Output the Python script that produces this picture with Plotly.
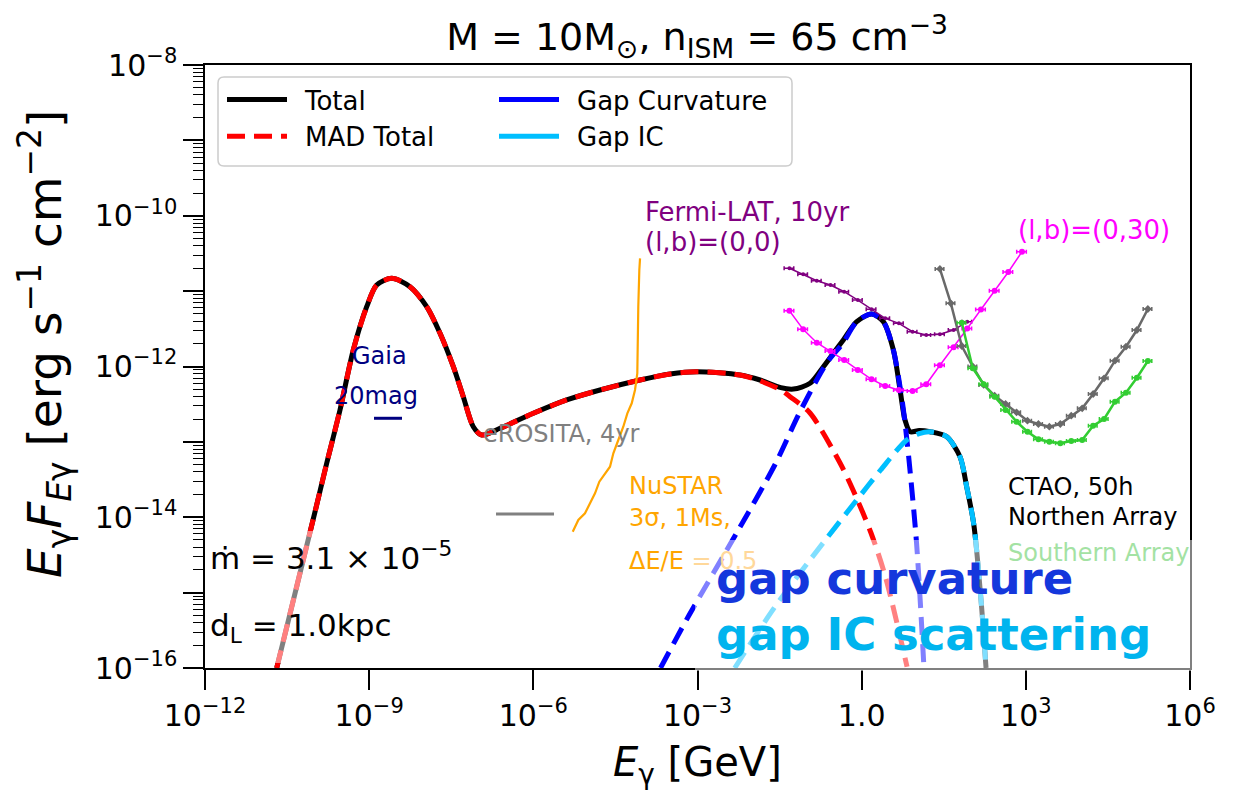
import numpy as np
import plotly.graph_objects as go

# ---------------- data (log10 values) ----------------
total_logE = [-10.69, -10.355, -9.99, -9.776, -9.533, -9.29, -9.045, -8.862, -8.588, -8.254,
              -7.949, -7.705, -7.462, -7.28, -7.097, -6.943, -6.609, -6.0, -5.391, -4.781,
              -4.051, -3.502, -3.009, -2.223, -1.857, -1.477, -1.249, -0.944, -0.70, -0.518,
              -0.335, -0.09, 0.184, 0.396, 0.579, 0.702, 0.792, 0.884, 1.05, 1.249, 1.55,
              1.797, 1.919, 2.05, 2.181, 2.273]
total_logF = [-16.0, -15.009, -13.93, -13.284, -12.577, -11.781, -11.207, -10.919, -10.83, -10.941,
              -11.207, -11.56, -12.003, -12.401, -12.799, -12.909, -12.82, -12.621, -12.444, -12.312,
              -12.179, -12.099, -12.069, -12.113, -12.179, -12.28, -12.299, -12.223, -12.003, -11.825,
              -11.648, -11.405, -11.303, -11.405, -11.781, -12.312, -12.71, -12.865, -12.85, -12.865, -12.93,
              -13.197, -13.595, -14.1, -15.098, -16.0]

mad_logE = [-10.69, -10.355, -9.99, -9.776, -9.533, -9.29, -9.045, -8.862, -8.588, -8.254,
            -7.949, -7.705, -7.462, -7.28, -7.097, -6.943, -6.609, -6.0, -5.391, -4.781,
            -4.051, -3.502, -3.009, -2.223, -1.857, -1.477, -1.309, -0.944, -0.395, -0.158,
            0.171, 0.434, 0.829]
mad_logF = [-16.0, -15.009, -13.93, -13.284, -12.577, -11.781, -11.207, -10.919, -10.83, -10.941,
            -11.207, -11.56, -12.003, -12.401, -12.799, -12.909, -12.82, -12.621, -12.444, -12.312,
            -12.179, -12.099, -12.069, -12.113, -12.19, -12.312, -12.40, -12.617, -13.28, -13.638,
            -14.209, -14.789, -15.983]

curv_logE = [-3.676, -3.155, -2.278, -1.583, -1.127, -0.639, -0.341, -0.09, 0.184, 0.396,
             0.579, 0.738, 0.792, 0.865, 1.003, 1.134]
curv_logF = [-16.0, -15.3, -14.2, -13.3, -12.6, -11.954, -11.688, -11.405, -11.303, -11.405,
             -11.781, -12.444, -12.75, -13.24, -14.342, -15.934]

ic_logE = [-2.32, -1.583, -0.706, -0.09, 0.346, 0.824, 1.05, 1.249, 1.55, 1.797, 1.919, 2.05, 2.181, 2.273]
ic_logF = [-16.0, -15.187, -14.342, -13.771, -13.373, -12.975, -12.89, -12.865, -12.93, -13.197,
           -13.595, -14.1, -15.098, -16.0]

fermi_logE = [-1.32, -1.07, -0.82, -0.57, -0.32, -0.07, 0.18, 0.43, 0.68, 0.93, 1.18, 1.43,
              1.68, 1.93, 2.18, 2.43, 2.68, 2.93]
fermi00_logF = [-10.697, -10.777, -10.862, -10.919, -11.008, -11.118, -11.241, -11.361, -11.427,
                -11.538, -11.582, -11.573, -11.516, -11.406]
fermi030_logF = [-11.26, -11.507, -11.684, -11.794, -11.914, -12.046, -12.17, -12.259, -12.312,
                 -12.325, -12.236, -11.984, -11.745, -11.496, -11.244, -10.994, -10.746, -10.477]

ctao_logE = [1.43, 1.63, 1.83, 2.03, 2.23, 2.43, 2.63, 2.83, 3.03, 3.23, 3.43, 3.63, 3.83,
             4.03, 4.23, 4.43, 4.63, 4.83, 5.03, 5.23]
ctao_north_logF = [-10.706, -11.162, -11.728, -12.0, -12.245, -12.387, -12.497, -12.608, -12.719,
                   -12.763, -12.799, -12.763, -12.653, -12.555, -12.365, -12.157, -11.923, -11.737,
                   -11.516, -11.237]
ctao_south_logE = [1.83, 2.03, 2.23, 2.43, 2.63, 2.83, 3.03, 3.23, 3.43, 3.63, 3.83,
                   4.03, 4.23, 4.43, 4.63, 4.83, 5.03, 5.23]
ctao_south_logF = [-11.419, -12.024, -12.236, -12.401, -12.577, -12.732, -12.865, -12.966, -12.998,
                   -13.019, -12.988, -12.975, -12.785, -12.697, -12.467, -12.348, -12.149, -11.927]

nustar_logE = [-4.05, -4.063, -4.082, -4.10, -4.142, -4.202, -4.282, -4.356, -4.447, -4.538,
               -4.599, -4.721, -4.794, -4.873, -4.964, -5.056, -5.178, -5.28]
nustar_logF = [-10.565, -10.72, -11.207, -12.09, -12.312, -12.488, -12.621, -12.799, -12.975, -13.152,
               -13.329, -13.462, -13.528, -13.682, -13.815, -13.948, -14.036, -14.192]

gaia_logE = [-8.912, -8.40]
gaia_logF = [-12.687, -12.687]
erosita_logE = [-6.682, -5.622]
erosita_logF = [-13.957, -13.957]

xtick_vals = [1e-12, 1e-9, 1e-6, 1e-3, 1.0, 1e3, 1e6]
xtick_text = ["10<sup>\u221212</sup>", "10<sup>\u22129</sup>", "10<sup>\u22126</sup>",
              "10<sup>\u22123</sup>", "1.0", "10<sup>3</sup>", "10<sup>6</sup>"]
ytick_vals = [10.0 ** k for k in range(-16, -7)]
ytick_text = ["10<sup>\u221216</sup>", "", "10<sup>\u221214</sup>", "", "10<sup>\u221212</sup>", "",
              "10<sup>\u221210</sup>", "", "10<sup>\u22128</sup>"]
yminor_vals = [m * 10.0 ** k for k in range(-16, -8) for m in range(2, 10)]

# ---------------- geometry helpers ----------------
W, H = 1239, 791
L, R, T, B = 205, 1190, 65, 668
FONT = "DejaVu Sans"
SP = "\u2002"  # spacing between legend handle and label


def pxx(x):
    return (x - L) / (R - L)


def pxy(y):
    return (B - y) / (B - T)


def p10(a):
    return np.power(10.0, np.array(a, dtype=float))


fig = go.Figure()

DASH = "18px,9px"
# model curves
fig.add_trace(go.Scatter(x=p10(total_logE), y=p10(total_logF), mode="lines", name=SP + "Total",
                         line=dict(color="black", width=5, shape="spline", smoothing=0.8),
                         legend="legend"))
fig.add_trace(go.Scatter(x=p10(mad_logE), y=p10(mad_logF), mode="lines", name=SP + "MAD Total",
                         line=dict(color="red", width=5, dash=DASH, shape="spline", smoothing=0.8),
                         legend="legend"))
fig.add_trace(go.Scatter(x=p10(curv_logE), y=p10(curv_logF), mode="lines", name="Gap Curvature",
                         line=dict(color="blue", width=5, dash=DASH, shape="spline", smoothing=0.8),
                         showlegend=False))
fig.add_trace(go.Scatter(x=p10(ic_logE), y=p10(ic_logF), mode="lines", name="Gap IC",
                         line=dict(color="deepskyblue", width=5, dash=DASH, shape="spline", smoothing=0.8),
                         showlegend=False))
# legend-only solid handles
fig.add_trace(go.Scatter(x=[None], y=[None], mode="lines", name=SP + "Gap Curvature",
                         line=dict(color="blue", width=5), legend="legend2"))
fig.add_trace(go.Scatter(x=[None], y=[None], mode="lines", name=SP + "Gap IC",
                         line=dict(color="deepskyblue", width=5), legend="legend2"))

# sensitivities
fig.add_trace(go.Scatter(x=p10(nustar_logE), y=p10(nustar_logF), mode="lines",
                         line=dict(color="orange", width=2.2), showlegend=False))
fig.add_trace(go.Scatter(x=p10(erosita_logE), y=p10(erosita_logF), mode="lines",
                         line=dict(color="gray", width=3), showlegend=False))
fig.add_trace(go.Scatter(x=p10(gaia_logE), y=p10(gaia_logF), mode="lines",
                         line=dict(color="navy", width=3), showlegend=False))

fig.add_trace(go.Scatter(x=p10(fermi_logE[:len(fermi00_logF)]), y=p10(fermi00_logF), mode="lines+markers",
                         line=dict(color="purple", width=1.5),
                         marker=dict(color="purple", size=4),
                         error_x=dict(type="percent", value=20, color="purple", thickness=1.5, width=2),
                         showlegend=False))
fig.add_trace(go.Scatter(x=p10(fermi_logE), y=p10(fermi030_logF), mode="lines+markers",
                         line=dict(color="magenta", width=1.5),
                         marker=dict(color="magenta", size=6),
                         error_x=dict(type="percent", value=20, color="magenta", thickness=1.5, width=2),
                         showlegend=False))
fig.add_trace(go.Scatter(x=p10(ctao_logE), y=p10(ctao_north_logF), mode="lines+markers",
                         line=dict(color="dimgray", width=2.5),
                         marker=dict(color="dimgray", size=6, symbol="diamond"),
                         error_x=dict(type="percent", value=18, color="dimgray", thickness=1.5, width=2),
                         showlegend=False))
fig.add_trace(go.Scatter(x=p10(ctao_south_logE), y=p10(ctao_south_logF), mode="lines+markers",
                         line=dict(color="limegreen", width=2.5),
                         marker=dict(color="limegreen", size=6),
                         error_x=dict(type="percent", value=18, color="limegreen", thickness=1.5, width=2),
                         showlegend=False))

# ---------------- annotations ----------------
ann = []


def text(x, y, s, size, color, xanchor="left", bold=False, angle=0):
    if bold:
        s = "<b>" + s + "</b>"
    ann.append(dict(x=pxx(x), y=pxy(y), xref="paper", yref="paper", text=s, showarrow=False,
                    xanchor=xanchor, yanchor="middle", textangle=angle,
                    font=dict(family=FONT, size=size, color=color)))


text(643, 212, "Fermi-LAT, 10yr", 26, "purple")
text(643, 242, "(l,b)=(0,0)", 26, "purple")
text(1016, 230, "(l,b)=(0,30)", 26, "magenta")
text(379, 356, "Gaia", 24, "navy", xanchor="center")
text(376, 396, "20mag", 24, "navy", xanchor="center")
text(481, 434, "eROSITA, 4yr", 24, "gray")
text(627, 486, "NuSTAR", 24, "orange")
text(627, 518, "3\u03c3, 1Ms,", 24, "orange")
text(627, 561, "\u0394E/E <span style='color:#ffd89a'>= 0.5</span>", 24, "orange")
text(1006, 487, "CTAO, 50h", 24, "black")
text(1006, 517, "Northen Array", 24, "black")
text(1006, 553, "Southern Array", 24, "#a3e2a3")
text(208, 556, "\u1e41 = 3.1 \u00d7 10<sup>\u22125</sup>", 31, "black")
text(208, 627, "d<sub>L</sub> = 1.0kpc", 31, "black")
text(714, 578, "gap curvature", 45, "#1437dc", bold=True)
text(714, 634, "gap IC scattering", 45, "#00b4ee", bold=True)
# axis titles
text(697, 765, "<i>E</i><sub>\u03b3</sub> [GeV]", 40, "black", xanchor="center")
text(44, 344, "<i>E</i><sub>\u03b3</sub><i>F</i><sub><i>E</i>\u03b3</sub> [erg s<sup>\u22121</sup> cm<sup>\u22122</sup>]",
     47, "black", xanchor="center", angle=-90)

# ---------------- shapes ----------------
x0, x1, y0, y1 = pxx(218), pxx(792), pxy(166), pxy(77)
rx, ry = 6 / (R - L), 6 / (B - T)
frame_path = (f"M {x0+rx},{y1} L {x1-rx},{y1} Q {x1},{y1} {x1},{y1-ry} L {x1},{y0+ry} "
              f"Q {x1},{y0} {x1-rx},{y0} L {x0+rx},{y0} Q {x0},{y0} {x0},{y0+ry} "
              f"L {x0},{y1-ry} Q {x0},{y1} {x0+rx},{y1} Z")
shapes = [
    dict(type="path", path=frame_path, xref="paper", yref="paper",
         fillcolor="rgba(255,255,255,0.8)", line=dict(color="#cccccc", width=1.5), layer="above"),
    dict(type="rect", xref="paper", yref="paper", x0=pxx(207), x1=pxx(462), y0=pxy(663), y1=pxy(531),
         fillcolor="rgba(255,255,255,0.5)", line=dict(width=0), layer="above"),
    dict(type="rect", xref="paper", yref="paper", x0=pxx(695), x1=pxx(1239), y0=pxy(671), y1=pxy(540),
         fillcolor="rgba(255,255,255,0.5)", line=dict(width=0), layer="above"),
]

fig.update_layout(
    width=W, height=H,
    margin=dict(l=L, r=W - R, t=T, b=H - B),
    paper_bgcolor="white", plot_bgcolor="white",
    font=dict(family=FONT, color="black"),
    title=dict(text="M = 10M<sub>\u2299</sub>, n<sub>ISM</sub> = 65 cm<sup>\u22123</sup>",
               x=pxx(697), xref="paper", xanchor="center", y=1 - 37 / H, yref="container",
               yanchor="middle", font=dict(family=FONT, size=38, color="black")),
    xaxis=dict(type="log", range=[-12, 6], tickmode="array", tickvals=xtick_vals, ticktext=xtick_text,
               ticks="outside", ticklen=20, tickwidth=1.5, tickcolor="black",
               showline=True, linecolor="black", linewidth=1.5, mirror=True, showgrid=False,
               zeroline=False, tickfont=dict(family=FONT, size=30, color="black")),
    yaxis=dict(type="log", range=[-16, -8], tickmode="array", tickvals=ytick_vals, ticktext=ytick_text,
               ticks="outside", ticklen=20, tickwidth=1.5, tickcolor="black",
               showline=True, linecolor="black", linewidth=1.5, mirror=True, showgrid=False,
               zeroline=False, tickfont=dict(family=FONT, size=30, color="black"),
               minor=dict(tickmode="array", tickvals=yminor_vals, ticks="outside", ticklen=10,
                          tickwidth=1, tickcolor="black", showgrid=False)),
    legend=dict(x=pxx(222), y=pxy(76), xanchor="left", yanchor="top", bgcolor="rgba(0,0,0,0)",
                borderwidth=0, font=dict(family=FONT, size=26, color="black"), itemwidth=60,
                tracegroupgap=0),
    legend2=dict(x=pxx(494), y=pxy(76), xanchor="left", yanchor="top", bgcolor="rgba(0,0,0,0)",
                 borderwidth=0, font=dict(family=FONT, size=26, color="black"), itemwidth=60,
                 tracegroupgap=0),
    annotations=ann,
    shapes=shapes,
)

fig.write_html("out.html")
